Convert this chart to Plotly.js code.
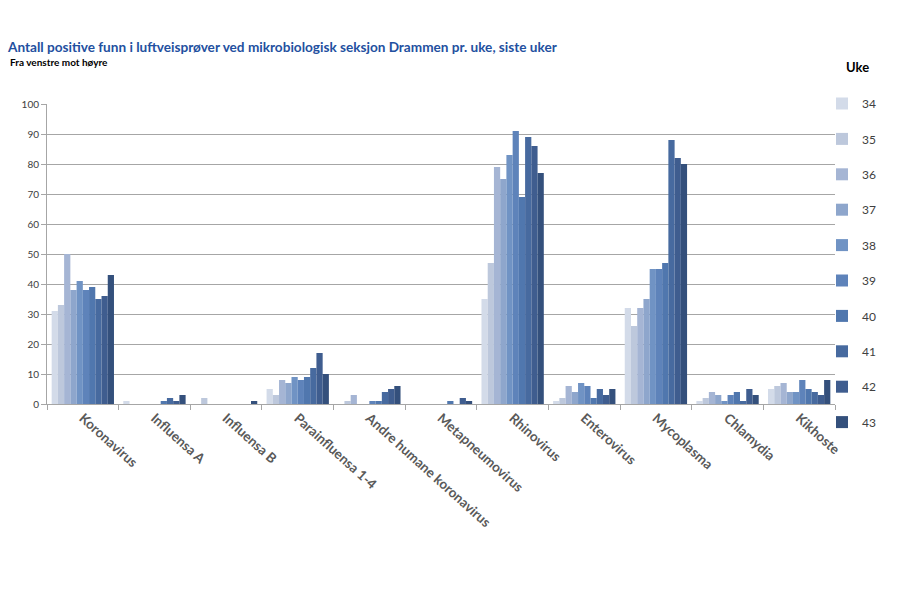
<!DOCTYPE html>
<html>
<head>
<meta charset="utf-8">
<script src="https://cdn.plot.ly/plotly-3.0.1.min.js"></script>
<style>html,body{margin:0;padding:0;background:#fff;}#chart{width:900px;height:600px;}</style>
</head>
<body>
<div id="chart"></div>
<script>
const categories = ["Koronavirus","Influensa A","Influensa B","Parainfluensa 1-4","Andre humane koronavirus","Metapneumovirus","Rhinovirus","Enterovirus","Mycoplasma","Chlamydia","Kikhoste"];
const weeks = ["34","35","36","37","38","39","40","41","42","43"];
// values per week, in category order
const week34 = [31,1,0,5,0,0,35,1,32,1,5];
const week35 = [33,0,2,3,1,0,47,2,26,2,6];
const week36 = [50,0,0,8,3,0,79,6,32,4,7];
const week37 = [38,0,0,7,0,0,75,4,35,3,4];
const week38 = [41,0,0,9,0,0,83,7,45,1,4];
const week39 = [38,0,0,8,1,0,91,6,45,3,8];
const week40 = [39,1,0,9,1,1,69,2,47,4,5];
const week41 = [35,2,0,12,4,0,89,5,88,1,4];
const week42 = [36,1,0,17,5,2,86,3,82,5,3];
const week43 = [43,3,1,10,6,1,77,5,80,3,8];
const series = [week34,week35,week36,week37,week38,week39,week40,week41,week42,week43];
const colors = ["#d3dbe9","#bdc8dc","#a5b5d4","#8ea6cc","#7093c4","#5e83ba","#5077ae","#476a9f","#3f5d8f","#34507c"];

const traces = series.map((vals, i) => ({
  type: "bar",
  name: weeks[i],
  x: categories,
  y: vals,
  marker: {color: colors[i], line: {width: 0}},
  legendgroup: "g" + i,
  hoverinfo: "x+y+name"
}));

const layout = {
  width: 900, height: 600,
  paper_bgcolor: "#ffffff", plot_bgcolor: "#ffffff",
  margin: {l: 47, r: 65, t: 104, b: 196, autoexpand: false},
  font: {family: "Lato, 'Liberation Sans', sans-serif", color: "#404040"},
  barmode: "group",
  bargap: 0.13,
  bargroupgap: 0,
  showlegend: true,
  title: {
    text: "<b>Antall positive funn i luftveisprøver ved mikrobiologisk seksjon Drammen pr. uke, siste uker</b>",
    x: 8/900, xanchor: "left", xref: "container",
    y: 1 - 47/600, yanchor: "middle", yref: "container",
    font: {family: "Lato, sans-serif", size: 13.6, color: "#2350a0"}
  },
  annotations: [{
    text: "<b>Fra venstre mot høyre</b>",
    xref: "paper", yref: "paper",
    x: -39/788, xanchor: "left",
    y: 1 + (104-62)/300, yanchor: "middle",
    showarrow: false,
    font: {family: "Lato, sans-serif", size: 10, color: "#000000"}
  }, {
    text: "<b>Uke</b>",
    xref: "paper", yref: "paper",
    x: (857-47)/788, xanchor: "center",
    y: 1 + (104-67)/300, yanchor: "middle",
    showarrow: false,
    font: {family: "Lato, sans-serif", size: 13, color: "#000000"}
  }],
  xaxis: {
    type: "category",
    range: [-0.5, 10.5],
    showline: true, linecolor: "#a6a6a6", linewidth: 1,
    ticks: "outside", tickson: "boundaries", ticklen: 5, tickcolor: "#a6a6a6",
    tickangle: 42,
    tickfont: {family: "Lato, sans-serif", size: 13.5, color: "#595959", weight: "bold"},
    showgrid: false, zeroline: false
  },
  yaxis: {
    range: [0, 100],
    dtick: 10,
    showline: true, linecolor: "#a6a6a6", linewidth: 1,
    ticks: "outside", ticklen: 5, tickcolor: "#a6a6a6",
    tickfont: {family: "Lato, sans-serif", size: 10, color: "#404040"},
    showgrid: true, gridcolor: "#a6a6a6", gridwidth: 1,
    zeroline: false
  },
  legend: {
    x: 1.0 - 13/788, xanchor: "left", y: 1.0 + (104-89)/300, yanchor: "top",
    traceorder: "grouped",
    tracegroupgap: 16.4,
    maxheight: 600,
    font: {family: "Lato, sans-serif", size: 12, color: "#404040"},
    bgcolor: "rgba(0,0,0,0)"
  }
};

Plotly.newPlot("chart", traces, layout, {displayModeBar: false, staticPlot: true});
</script>
</body>
</html>
